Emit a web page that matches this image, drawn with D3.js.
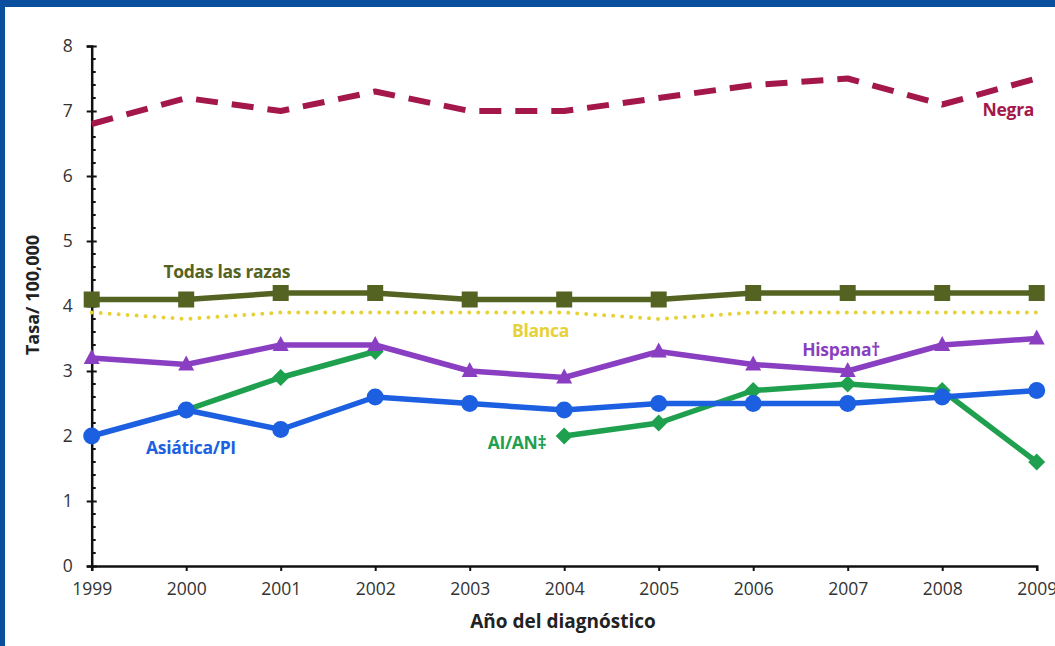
<!DOCTYPE html>
<html>
<head>
<meta charset="utf-8">
<script src="https://cdn.jsdelivr.net/npm/d3@7"></script>
<style>
  html, body { margin: 0; padding: 0; background: #0a4d9c; }
  svg { display: block; }
</style>
</head>
<body>
<svg id="chart" width="1055" height="646"></svg>
<script>
// ---- data ----
const years = [1999, 2000, 2001, 2002, 2003, 2004, 2005, 2006, 2007, 2008, 2009];
const yTicks = [0, 1, 2, 3, 4, 5, 6, 7, 8];
const negra = [6.8, 7.2, 7.0, 7.3, 7.0, 7.0, 7.2, 7.4, 7.5, 7.1, 7.5];
const todas = [4.1, 4.1, 4.2, 4.2, 4.1, 4.1, 4.1, 4.2, 4.2, 4.2, 4.2];
const blanca = [3.9, 3.8, 3.9, 3.9, 3.9, 3.9, 3.8, 3.9, 3.9, 3.9, 3.9];
const hispana = [3.2, 3.1, 3.4, 3.4, 3.0, 2.9, 3.3, 3.1, 3.0, 3.4, 3.5];
const asiatica = [2.0, 2.4, 2.1, 2.6, 2.5, 2.4, 2.5, 2.5, 2.5, 2.6, 2.7];
const aian = [null, 2.4, 2.9, 3.3, null, 2.0, 2.2, 2.7, 2.8, 2.7, 1.6];
const seriesNames = ["Negra", "Todas las razas", "Blanca", "Hispana†", "Asiática/PI", "AI/AN‡"];
const xTitle = "Año del diagnóstico";
const yTitle = "Tasa/ 100,000";

const svg = d3.select("#chart");
const W = 1055, H = 646;

// background slide
const bg = svg.append("g");
bg.append("rect").attr("width", W).attr("height", H).attr("fill", "#0a4f9e");
bg.append("rect").attr("x", 5).attr("y", 7).attr("width", W - 5).attr("height", H - 7).attr("fill", "#ffffff");

const x = d3.scaleLinear().domain([1999, 2009]).range([91.7, 1036.7]);
const y = d3.scaleLinear().domain([0, 8]).range([566, 46]);

const font = "'Open Sans', 'Noto Sans', sans-serif";

// axes
const gx = svg.append("g").attr("transform", `translate(0,${y(0)})`)
  .call(d3.axisBottom(x).tickValues(years).tickFormat(d3.format("d")).tickSize(5).tickPadding(12));
gx.select(".domain").attr("stroke", "#111").attr("stroke-width", 2.5);
gx.selectAll(".tick line").attr("stroke", "#111").attr("stroke-width", 2);
gx.selectAll(".tick text").attr("font-family", font).attr("font-size", 17.5).attr("fill", "#333");

const gy = svg.append("g").attr("transform", `translate(${x(1999)},0)`)
  .call(d3.axisLeft(y).tickValues(yTicks).tickSize(5).tickPadding(14));
gy.select(".domain").attr("stroke", "#111").attr("stroke-width", 2.5);
gy.selectAll(".tick line").attr("stroke", "#111").attr("stroke-width", 2).attr("x2", 5).attr("x1", -5);
gy.selectAll(".tick text").attr("font-family", font).attr("font-size", 17.5).attr("fill", "#333");

// minor ticks on y axis
const minor = d3.range(0, 8.001, 0.2).filter(v => Math.abs(v - Math.round(v)) > 0.01);
svg.append("g").selectAll("line").data(minor).join("line")
  .attr("x1", x(1999)).attr("x2", x(1999) + 4)
  .attr("y1", d => y(d)).attr("y2", d => y(d))
  .attr("stroke", "#111").attr("stroke-width", 2);

// titles
svg.append("text").attr("x", 563).attr("y", 628).attr("text-anchor", "middle")
  .attr("font-family", font).attr("font-weight", "bold").attr("font-size", 19).attr("fill", "#222")
  .text(xTitle);
svg.append("text").attr("transform", `translate(39,295) rotate(-90)`).attr("text-anchor", "middle")
  .attr("font-family", font).attr("font-weight", "bold").attr("font-size", 18).attr("fill", "#222")
  .text(yTitle);

const line = d3.line().defined(d => d != null).x((d, i) => x(years[i])).y(d => y(d));

function drawLine(vals, color, width, dash) {
  svg.append("path").datum(vals).attr("d", line)
    .attr("fill", "none").attr("stroke", color).attr("stroke-width", width)
    .attr("stroke-linejoin", "round")
    .attr("stroke-dasharray", dash || null)
    .attr("stroke-linecap", dash === "0 9" ? "round" : "butt");
}
function pts(vals) {
  return vals.map((v, i) => ({ v, yr: years[i] })).filter(d => d.v != null);
}

// AI/AN (green, diamonds)
const cGreen = "#1ea04f";
drawLine(aian, cGreen, 5.5);
svg.append("g").selectAll("path").data(pts(aian)).join("path")
  .attr("transform", d => `translate(${x(d.yr)},${y(d.v)}) rotate(45)`)
  .attr("d", "M-6,-6H6V6H-6Z").attr("fill", cGreen);

// Asiática (blue circles)
const cBlue = "#1c5fe0";
drawLine(asiatica, cBlue, 5.5);
svg.append("g").selectAll("circle").data(pts(asiatica)).join("circle")
  .attr("cx", d => x(d.yr)).attr("cy", d => y(d.v)).attr("r", 8.5).attr("fill", cBlue);

// Hispana (purple triangles)
const cPurple = "#8a3fc2";
drawLine(hispana, cPurple, 5.5);
svg.append("g").selectAll("path").data(pts(hispana)).join("path")
  .attr("transform", d => `translate(${x(d.yr)},${y(d.v)})`)
  .attr("d", "M0,-9L8,6H-8Z").attr("fill", cPurple);

// Blanca (yellow dotted)
const cYellow = "#e6d136";
drawLine(blanca, cYellow, 4, "0 9");

// Todas (olive squares)
const cOlive = "#556322";
drawLine(todas, cOlive, 5.5);
svg.append("g").selectAll("rect").data(pts(todas)).join("rect")
  .attr("x", d => x(d.yr) - 8).attr("y", d => y(d.v) - 8).attr("width", 16).attr("height", 16)
  .attr("fill", cOlive);

// Negra (maroon dashed)
const cMaroon = "#a3174a";
drawLine(negra, cMaroon, 6, "22 14");

// series labels (baseline positions in data units)
const labels = [
  { t: seriesNames[0], c: cMaroon, xv: 2008.7, yv: 6.92 },
  { t: seriesNames[1], c: cOlive, xv: 2000.43, yv: 4.43 },
  { t: seriesNames[2], c: cYellow, xv: 2003.75, yv: 3.53 },
  { t: seriesNames[3], c: cPurple, xv: 2006.93, yv: 3.23 },
  { t: seriesNames[4], c: cBlue, xv: 2000.05, yv: 1.73 },
  { t: seriesNames[5], c: cGreen, xv: 2003.5, yv: 1.8 }
];
svg.append("g").selectAll("text").data(labels).join("text")
  .attr("x", d => x(d.xv)).attr("y", d => y(d.yv)).attr("text-anchor", "middle")
  .attr("font-family", font).attr("font-weight", "bold").attr("font-size", 17.5)
  .attr("letter-spacing", -0.3)
  .attr("fill", d => d.c).text(d => d.t);
</script>
</body>
</html>
